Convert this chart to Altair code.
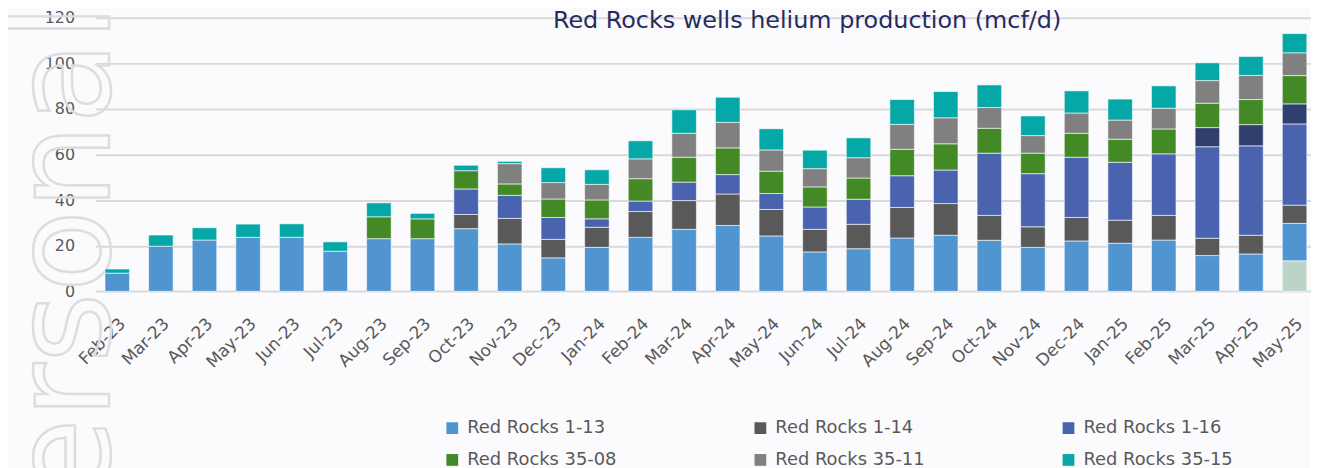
import altair as alt
import pandas as pd

months = ["Feb-23", "Mar-23", "Apr-23", "May-23", "Jun-23", "Jul-23", "Aug-23", "Sep-23",
          "Oct-23", "Nov-23", "Dec-23", "Jan-24", "Feb-24", "Mar-24", "Apr-24", "May-24",
          "Jun-24", "Jul-24", "Aug-24", "Sep-24", "Oct-24", "Nov-24", "Dec-24", "Jan-25",
          "Feb-25", "Mar-25", "Apr-25", "May-25"]

# series listed from bottom of the stack to the top
other_2 = [0, 0, 0, 0, 0, 0, 0, 0, 0, 0, 0, 0, 0, 0, 0, 0, 0, 0, 0, 0, 0, 0, 0, 0, 0, 0, 0, 13.4]
rr_1_13 = [8.0, 19.8, 22.5, 23.7, 23.7, 17.6, 23.1, 23.1, 27.5, 20.8, 14.7, 19.3, 23.7, 27.2,
           28.9, 24.3, 17.3, 18.7, 23.4, 24.6, 22.4, 19.3, 22.1, 21.1, 22.5, 15.7, 16.4, 16.4]
rr_1_14 = [0, 0, 0, 0, 0, 0, 0, 0, 6.2, 11.2, 8.1, 8.8, 11.3, 12.6,
           13.8, 11.6, 9.9, 10.7, 13.4, 13.9, 10.9, 9.0, 10.3, 10.1, 10.8, 7.6, 8.2, 8.0]
rr_1_16 = [0, 0, 0, 0, 0, 0, 0, 0, 11.2, 10.1, 9.6, 3.7, 4.6, 8.1,
           8.5, 7.0, 9.8, 11.0, 13.9, 14.7, 27.3, 23.3, 26.4, 25.4, 27.0, 40.1, 39.2, 35.6]
other_1 = [0, 0, 0, 0, 0, 0, 0, 0, 0, 0, 0, 0, 0, 0, 0, 0, 0, 0, 0, 0, 0, 0, 0, 0, 0, 8.4, 9.3, 8.8]
rr_35_08 = [0, 0, 0, 0, 0, 0, 9.6, 8.7, 8.0, 5.0, 8.1, 8.3, 9.8, 10.9,
            11.7, 9.8, 8.8, 9.3, 11.6, 11.5, 10.9, 9.0, 10.5, 10.1, 10.9, 10.7, 11.0, 12.4]
rr_35_11 = [0, 0, 0, 0, 0, 0, 0, 0, 0, 8.9, 7.2, 6.8, 8.7, 10.5,
            11.2, 9.3, 8.0, 8.9, 10.9, 11.4, 9.1, 7.7, 8.9, 8.4, 9.1, 9.9, 10.6, 10.0]
rr_35_15 = [1.8, 4.9, 5.4, 5.8, 5.9, 4.1, 6.1, 2.4, 2.4, 1.0, 6.5, 6.4, 7.9, 10.3,
            11.0, 9.3, 8.1, 8.7, 10.9, 11.5, 9.9, 8.6, 9.7, 9.2, 9.8, 7.8, 8.3, 8.4]

series_names = ["Other well 2", "Red Rocks 1-13", "Red Rocks 1-14", "Red Rocks 1-16",
                "Other well 1", "Red Rocks 35-08", "Red Rocks 35-11", "Red Rocks 35-15"]
series_values = [other_2, rr_1_13, rr_1_14, rr_1_16, other_1, rr_35_08, rr_35_11, rr_35_15]
series_colors = ["#BCD3C8", "#5195D0", "#595959", "#4A63AE", "#313F6F", "#438A27", "#808080", "#05A8A6"]
legend_names = ["Red Rocks 1-13", "Red Rocks 1-14", "Red Rocks 1-16",
                "Red Rocks 35-08", "Red Rocks 35-11", "Red Rocks 35-15"]

title_text = "Red Rocks wells helium production (mcf/d)"
watermark_text = "Personal"

rows = []
for k, (name, vals) in enumerate(zip(series_names, series_values)):
    for m, v in zip(months, vals):
        if v > 0:
            rows.append({"month": m, "well": name, "value": v, "k": k})
df = pd.DataFrame(rows)

bars = alt.Chart(df).mark_bar(stroke="#FFFFFF", strokeWidth=1, strokeOpacity=0.6).encode(
    x=alt.X("month:N", sort=months, title=None,
            scale=alt.Scale(range=[0, 1228.4], paddingInner=0.437, paddingOuter=0.2185),
            axis=alt.Axis(labelAngle=315, labelFont="DejaVu Sans", labelFontSize=17,
                          labelColor="#595959", labelPadding=24, ticks=False, domain=False,
                          grid=False)),
    y=alt.Y("value:Q", stack="zero", title=None,
            scale=alt.Scale(domain=[0, 120], nice=False),
            axis=alt.Axis(values=[0, 20, 40, 60, 80, 100, 120], labelFont="DejaVu Sans",
                          labelFontSize=16, labelColor="#595959", labelPadding=21,
                          ticks=False, domain=False, gridColor="#D9D9D9", gridWidth=2)),
    color=alt.Color("well:N", scale=alt.Scale(domain=series_names, range=series_colors),
                    legend=alt.Legend(values=legend_names, title=None, orient="none",
                                      direction="horizontal",
                                      legendX=350, legendY=404, columns=3, gridAlign="all",
                                      columnPadding=135, rowPadding=14, symbolType="square",
                                      symbolSize=140, symbolStrokeWidth=0,
                                      labelFont="DejaVu Sans", labelFontSize=18,
                                      labelColor="#595959", labelOffset=6, padding=0)),
    order=alt.Order("k:Q", sort="ascending"),
)

wm = alt.Chart(alt.Data(values=[{"t": watermark_text}])).mark_text(
    angle=270, align="right", baseline="alphabetic", font="DejaVu Sans", fontSize=136,
    fill="#FBFBFE", fillOpacity=0, stroke="#DDDDDD", strokeWidth=2.5,
).encode(text="t:N", x=alt.value(14), y=alt.value(-14))

title = alt.Chart(alt.Data(values=[{"t": title_text}])).mark_text(
    align="center", baseline="alphabetic", font="DejaVu Sans", fontSize=24, color="#262B5E",
).encode(text="t:N", x=alt.value(716), y=alt.value(10.5))

chart = alt.layer(wm, bars, title).properties(
    width=1223, height=275.4,
    background="#FBFBFE",
    autosize=alt.AutoSizeParams(type="none"),
    padding={"left": 88, "top": 8.3, "right": 0, "bottom": 176.3},
).configure_view(stroke=None)

chart.save("out.html", embed_options={"renderer": "svg", "actions": False})
